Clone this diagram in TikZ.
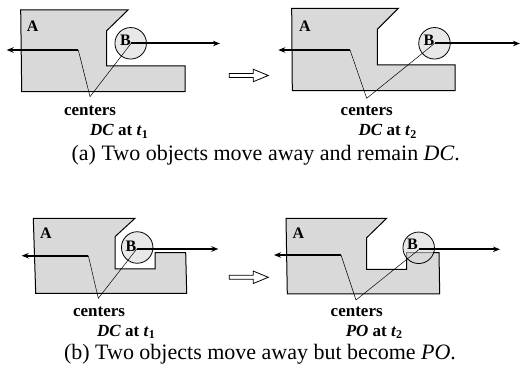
\documentclass[tikz,border=0pt]{standalone}
\usepackage{fontspec}
\setmainfont{Liberation Serif}
\usetikzlibrary{arrows.meta}
\definecolor{regfill}{HTML}{D9D9D9}
\newcommand{\lowsub}[1]{\raisebox{-0.35ex}{\fontsize{12}{12}\selectfont #1}}
\begin{document}
\begin{tikzpicture}[x=1pt,y=-1pt,
  region/.style={draw=black, line width=1pt, fill=regfill},
  ball/.style={circle, draw=black, line width=0.8pt, fill=regfill, fill opacity=0.6, minimum size=31.5pt, inner sep=0pt},
  lbl/.style={font=\fontsize{16}{18}\selectfont\bfseries, inner sep=0pt},
  move/.style={line width=2pt, -{Stealth[length=7pt,width=5.5pt]}},
  pointer/.style={line width=0.5pt},
  note/.style={font=\fontsize{17}{20}\selectfont\bfseries, inner sep=0pt},
  captxt/.style={font=\fontsize{22}{26}\selectfont, inner sep=0pt},
  hollow/.style={draw=black, line width=0.8pt, fill=white}]
\useasboundingbox (0,0) rectangle (520,390);

% ---------- panel 1 ----------
\draw[region] (20.7,10) -- (128,10) -- (106.7,30.7) -- (106.7,66) -- (185,66) -- (185,91.7) -- (21.7,91.7) -- cycle;
\node[ball] (b1) at (130.7,43.3) {};
\coordinate (b1c) at (131,43.5);
\coordinate (a1c) at (78.3,50);
\coordinate (a1e) at (6.7,50);
\coordinate (b1e) at (220,43.5);
\coordinate (p1) at (90,96.7);
\draw[pointer] (a1c) -- (p1) -- (b1c);
\draw[move] (a1c) -- (a1e);
\draw[move] (b1c) -- (b1e);
\node[lbl] (la1) at (32.7,26.7) {A};
\node[lbl] (lb1) at (125.5,40.5) {B};
\node[note] (c1) at (90,111.2) {centers};
\node[note] (s1) at (119,131.5) {\textit{DC} at \textit{t}\lowsub{1}};

% hollow arrow (a)
\draw[hollow] (229.3,73.5) -- (253.3,73.5) -- (253.3,69.3) -- (268.3,75.5) -- (253.3,81.7) -- (253.3,77.5) -- (229.3,77.5) -- cycle;

% ---------- panel 2 ----------
\draw[region] (291.7,8.3) -- (398.3,8.3) -- (377.3,29.3) -- (377.3,65) -- (455,65) -- (455,90.7) -- (292.3,90.7) -- cycle;
\node[ball] (b2) at (434.5,43.3) {};
\coordinate (b2c) at (434.5,43.5);
\coordinate (a2c) at (350,50);
\coordinate (a2e) at (278.3,50);
\coordinate (b2e) at (520,43.5);
\coordinate (p2) at (366.7,98.3);
\draw[pointer] (a2c) -- (p2) -- (b2c);
\draw[move] (a2c) -- (a2e);
\draw[move] (b2c) -- (b2e);
\node[lbl] (la2) at (305,26.7) {A};
\node[lbl] (lb2) at (429,40.5) {B};
\node[note] (c2) at (366.7,111.2) {centers};
\node[note] (s2) at (387.5,131.5) {\textit{DC} at \textit{t}\lowsub{2}};

\node[captxt] (capa) at (265.7,155) {(a) Two objects move away and remain \textit{DC}.};

% ---------- panel 3 ----------
\draw[region] (33.3,218.3) -- (135,218.3) -- (115,236.7) -- (115,269) -- (155,269) -- (155,252.7) -- (185.7,252.7) -- (186.7,293.3) -- (35.7,293.3) -- cycle;
\node[ball] (b3) at (137.2,247.5) {};
\coordinate (b3c) at (136.7,249);
\coordinate (a3c) at (88.3,255.7);
\coordinate (a3e) at (21.7,255.7);
\coordinate (b3e) at (218.3,249);
\coordinate (p3) at (98.3,298.3);
\draw[pointer] (a3c) -- (p3) -- (b3c);
\draw[move] (a3c) -- (a3e);
\draw[move] (b3c) -- (b3e);
\node[lbl] (la3) at (46,233.3) {A};
\node[lbl] (lb3) at (131,246) {B};
\node[note] (c3) at (99,312) {centers};
\node[note] (s3) at (126,332) {\textit{DC} at \textit{t}\lowsub{1}};

% hollow arrow (b)
\draw[hollow] (229.3,275.3) -- (253.3,275.3) -- (253.3,271.1) -- (268.3,277.3) -- (253.3,283.5) -- (253.3,279.3) -- (229.3,279.3) -- cycle;

% ---------- panel 4 ----------
\draw[region] (286,218.3) -- (386.7,218.3) -- (366.7,237.7) -- (366.7,269.3) -- (406.7,269.3) -- (406.7,252.7) -- (439,252.7) -- (439.7,294) -- (287.3,294) -- cycle;
\node[ball] (b4) at (418.7,247.8) {};
\coordinate (b4c) at (419.3,249.3);
\coordinate (a4c) at (341,255);
\coordinate (a4e) at (274,255);
\coordinate (b4e) at (500,249.3);
\coordinate (p4) at (356,300);
\draw[pointer] (a4c) -- (p4) -- (b4c);
\draw[move] (a4c) -- (a4e);
\draw[move] (b4c) -- (b4e);
\node[lbl] (la4) at (298.3,233.3) {A};
\node[lbl] (lb4) at (412.5,244) {B};
\node[note] (c4) at (356.7,312) {centers};
\node[note] (s4) at (374,332) {\textit{PO} at \textit{t}\lowsub{2}};

\node[captxt] (capb) at (260,354) {(b) Two objects move away but become \textit{PO}.};
\end{tikzpicture}
\end{document}
